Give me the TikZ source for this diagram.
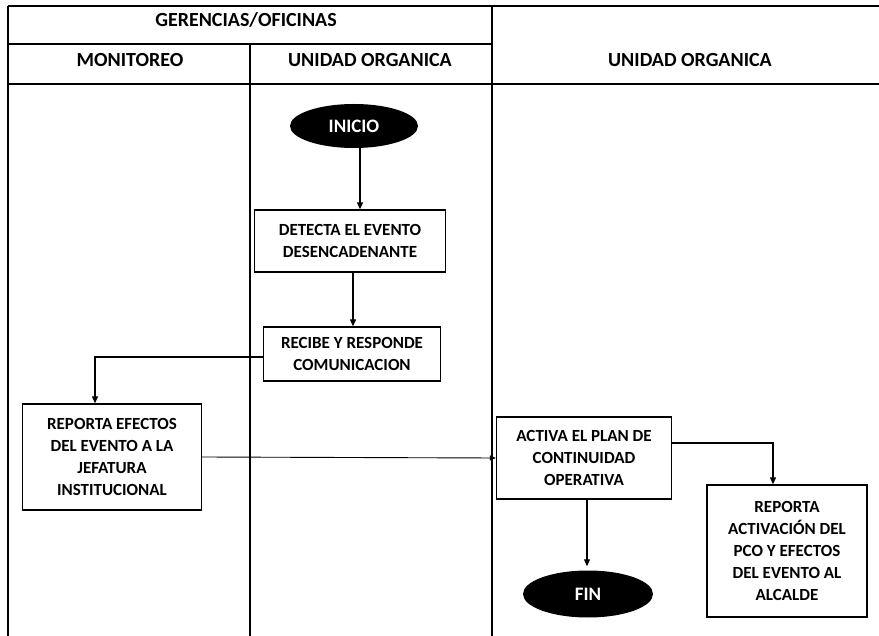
\documentclass[tikz,border=0pt]{standalone}
\usepackage{fontspec}
\setmainfont{Carlito}
\usetikzlibrary{shapes.geometric,arrows.meta}
\begin{document}
\begin{tikzpicture}[x=1pt,y=-1pt,
  lane/.style={line width=1.4pt},
  hdr/.style={font=\bfseries\fontsize{20}{24}\selectfont},
  box/.style={draw,line width=1.3pt,align=center,inner sep=0pt,font=\bfseries\fontsize{17}{22}\selectfont},
  term/.style={ellipse,fill=black,text=white,inner sep=0pt,font=\bfseries\fontsize{19}{22}\selectfont},
  conn/.style={line width=1.1pt,-{Triangle[length=7pt,width=6pt]}},
  thin/.style={line width=0.9pt,-{Triangle[length=6pt,width=5pt]}}]
\useasboundingbox (0,0) rectangle (879,636);
% table
\draw[lane] (8,6) -- (879,6);
\draw[lane] (8,44) -- (492,44);
\draw[lane] (8,84) -- (879,84);
\draw[lane] (8,6) -- (8,636);
\draw[lane] (250,44) -- (250,636);
\draw[lane] (492,6) -- (492,636);
\node[hdr] (h1) at (246,20) {GERENCIAS/OFICINAS};
\node[hdr] (h2) at (130,60) {MONITOREO};
\node[hdr] (h3) at (370,60) {UNIDAD ORGANICA};
\node[hdr] (h4) at (690,60) {UNIDAD ORGANICA};
% nodes
\node[term,minimum width=128pt,minimum height=44pt] (ini) at (354,126) {INICIO};
\node[box,minimum width=191pt,minimum height=62pt] (det) at (350,241) {DETECTA EL EVENTO\\DESENCADENANTE};
\node[box,minimum width=177pt,minimum height=54pt] (rec) at (352,354) {RECIBE Y RESPONDE\\COMUNICACION};
\node[box,minimum width=179pt,minimum height=106pt] (rep) at (112,457) {REPORTA EFECTOS\\DEL EVENTO A LA\\JEFATURA\\INSTITUCIONAL};
\node[box,minimum width=175pt,minimum height=82pt] (act) at (584,458) {ACTIVA EL PLAN DE\\CONTINUIDAD\\OPERATIVA};
\node[term,minimum width=130pt,minimum height=47pt] (fin) at (588,594) {FIN};
\node[box,minimum width=160pt,minimum height=132pt] (rpa) at (787,551) {REPORTA\\ACTIVACIÓN DEL\\PCO Y EFECTOS\\DEL EVENTO AL\\ALCALDE};
% connectors
\draw[conn] (ini.south -| 360,0) -- (det.north -| 360,0);
\draw[conn] (det.south -| 353,0) -- (rec.north -| 353,0);
\draw[conn] (rec.west |- 0,357) -| (rep.north -| 95,0);
\draw[thin] (rep.east) -- (act.west);
\draw[conn] (act.east |- 0,443) -| (rpa.north -| 773,0);
\draw[conn] (act.south -| 587,0) -- ([yshift=4pt]fin.north -| 587,0);
\end{tikzpicture}
\end{document}
